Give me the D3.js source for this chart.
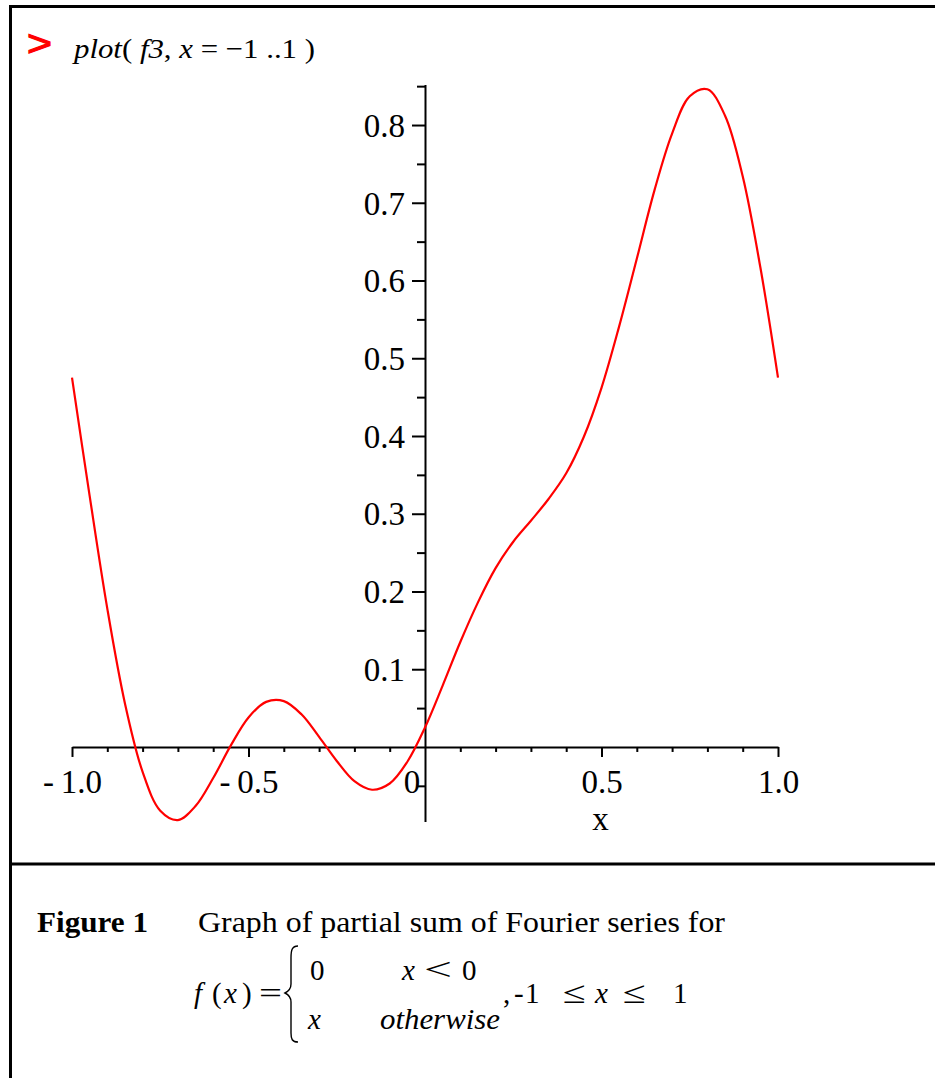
<!DOCTYPE html>
<html>
<head>
<meta charset="utf-8">
<script src="https://cdn.jsdelivr.net/npm/d3@7"></script>
<style>
  html, body { margin: 0; padding: 0; background: #fff; }
  svg { display: block; }
  text { font-family: "Liberation Serif", "Times New Roman", serif; fill: #000; }
</style>
</head>
<body>
<svg id="chart" width="935" height="1078"></svg>
<script>
// ---- data ----
const xValues = [-1, -0.95, -0.9, -0.85, -0.8, -0.75, -0.7, -0.65, -0.6, -0.55, -0.5,
  -0.45, -0.4, -0.35, -0.3, -0.25, -0.2, -0.15, -0.1, -0.05, 0,
  0.05, 0.1, 0.15, 0.2, 0.25, 0.3, 0.35, 0.4, 0.45, 0.5,
  0.55, 0.6, 0.65, 0.7, 0.75, 0.8, 0.85, 0.9, 0.95, 1];
const yValues = [0.475, 0.323, 0.178, 0.056, -0.032, -0.082, -0.094, -0.076, -0.040, 0.002, 0.038,
  0.058, 0.059, 0.042, 0.013, -0.018, -0.044, -0.055, -0.047, -0.019, 0.025,
  0.079, 0.135, 0.186, 0.230, 0.264, 0.291, 0.319, 0.352, 0.399, 0.462,
  0.541, 0.628, 0.716, 0.789, 0.837, 0.846, 0.812, 0.734, 0.617, 0.475];
const xMajorTicks = [-1, -0.5, 0.5, 1];
const xMajorLabels = ["-\u20091.0", "-\u20090.5", "0.5", "1.0"];
const xMinorTicks = [-0.9, -0.8, -0.7, -0.6, -0.4, -0.3, -0.2, -0.1, 0.1, 0.2, 0.3, 0.4, 0.6, 0.7, 0.8, 0.9];
const yMajorTicks = [0.1, 0.2, 0.3, 0.4, 0.5, 0.6, 0.7, 0.8];
const yMajorLabels = ["0.1", "0.2", "0.3", "0.4", "0.5", "0.6", "0.7", "0.8"];
const yMinorTicks = [-0.05, 0.05, 0.15, 0.25, 0.35, 0.45, 0.55, 0.65, 0.75, 0.85];
const xAxisTitle = "x";
const originLabel = "0";

// ---- layout ----
const svg = d3.select("#chart");
const x = d3.scaleLinear().domain([-1, 1]).range([72, 778]);
const y = d3.scaleLinear().domain([-0.096, 0.852]).range([821.6, 84.6]);

// frame
const frame = svg.append("g").attr("stroke", "#000").attr("stroke-width", 3);
frame.append("line").attr("x1", 9).attr("x2", 935).attr("y1", 6.5).attr("y2", 6.5);
frame.append("line").attr("x1", 10.5).attr("x2", 10.5).attr("y1", 5).attr("y2", 1078);
frame.append("line").attr("x1", 9).attr("x2", 935).attr("y1", 864).attr("y2", 864);

// command line
const cmd = svg.append("g");
cmd.append("text").attr("x", 27).attr("y", 56)
  .style("font-family", "'Liberation Sans', Arial, sans-serif")
  .style("font-size", "36px").style("fill", "#ff0000")
  .attr("stroke", "#ff0000").attr("stroke-width", 1.2)
  .attr("textLength", 25).attr("lengthAdjust", "spacingAndGlyphs").text(">");
const cmdText = cmd.append("text").attr("x", 74).attr("y", 58).style("font-size", "28px")
  .attr("textLength", 241).attr("lengthAdjust", "spacingAndGlyphs");
[["plot", true], ["( ", false], ["f3", true], [", ", false], ["x", true], [" = \u22121 ..1 )", false]]
  .forEach(([t, it]) => cmdText.append("tspan").style("font-style", it ? "italic" : "normal").text(t));

// axes
const fontSize = "33px";
const axX = svg.append("g").attr("transform", `translate(0,${y(0)})`);
axX.call(d3.axisBottom(x).tickValues(xMinorTicks).tickSize(5).tickSizeOuter(0).tickFormat(""));
const axXMaj = svg.append("g").attr("transform", `translate(0,${y(0)})`);
axXMaj.call(d3.axisBottom(x).tickValues(xMajorTicks).tickSize(10).tickSizeOuter(0)
  .tickPadding(14).tickFormat((d, i) => xMajorLabels[i]));
axXMaj.select(".domain").remove();

const axY = svg.append("g").attr("transform", `translate(${x(0)},0)`);
axY.call(d3.axisLeft(y).tickValues(yMinorTicks).tickSize(8).tickSizeOuter(0).tickFormat(""));
const axYMaj = svg.append("g").attr("transform", `translate(${x(0)},0)`);
axYMaj.call(d3.axisLeft(y).tickValues(yMajorTicks).tickSize(13).tickSizeOuter(0)
  .tickPadding(7).tickFormat((d, i) => yMajorLabels[i]));
axYMaj.select(".domain").remove();

svg.selectAll(".domain, .tick line").attr("stroke", "#000").attr("stroke-width", 2);
svg.selectAll(".tick text")
  .style("font-family", "'Liberation Serif', 'Times New Roman', serif")
  .style("font-size", fontSize).attr("fill", "#000");
axXMaj.selectAll(".tick text").attr("dy", null).attr("y", 46);
axYMaj.selectAll(".tick text").attr("dy", "0.34em");

// origin label and x title
svg.append("text").attr("x", x(0) - 13).attr("y", 793).attr("text-anchor", "middle")
  .style("font-size", fontSize).text(originLabel);
svg.append("text").attr("x", x(0.5) - 1).attr("y", 830).attr("text-anchor", "middle")
  .style("font-size", fontSize).text(xAxisTitle);

// curve
const line = d3.line().x((d, i) => x(xValues[i])).y(d => y(d)).curve(d3.curveCatmullRom);
svg.append("path").datum(yValues).attr("d", line)
  .attr("fill", "none").attr("stroke", "#ff0000").attr("stroke-width", 2.2);

// caption
const cap = svg.append("g");
function piece(txt, xp, yp, opt) {
  opt = opt || {};
  const t = cap.append("text").attr("x", xp).attr("y", yp)
    .style("font-size", (opt.size || 29) + "px").text(txt);
  if (opt.italic) t.style("font-style", "italic");
  if (opt.bold) t.style("font-weight", "bold");
  if (opt.len) t.attr("textLength", opt.len).attr("lengthAdjust", "spacingAndGlyphs");
  return t;
}
piece("Figure 1", 37, 932, { bold: true, len: 111 });
piece("Graph of partial sum of Fourier series for", 198, 932, { len: 527 });
// f(x) =
const mid = 1003;
piece("f", 194, mid, { italic: true });
piece("(", 212, mid);
piece("x", 224, mid, { italic: true });
piece(")", 242, mid);
piece("=", 259, mid, { len: 23 });
// brace
cap.append("path")
  .attr("d", "M298,946 C292,946 291,950 291,958 L291,984 C291,988 289,991 285,993 C289,995 291,998 291,1002 L291,1033 C291,1039 292,1042 298,1042")
  .attr("fill", "none").attr("stroke", "#000").attr("stroke-width", 1.4);
// cases
piece("0", 310, 980);
piece("x", 402, 980, { italic: true });
piece("<", 424, 980, { size: 31, len: 28 });
piece("0", 462, 980);
piece("x", 308, 1029, { italic: true });
piece("otherwise", 380, 1029, { italic: true, len: 120 });
// range
piece(",", 503, mid);
piece("-", 514, mid);
piece("1", 525, mid);
piece("\u2264", 563, mid, { size: 31, len: 23 });
piece("x", 595, mid, { italic: true });
piece("\u2264", 623, mid, { size: 31, len: 23 });
piece("1", 673, mid);
</script>
</body>
</html>
